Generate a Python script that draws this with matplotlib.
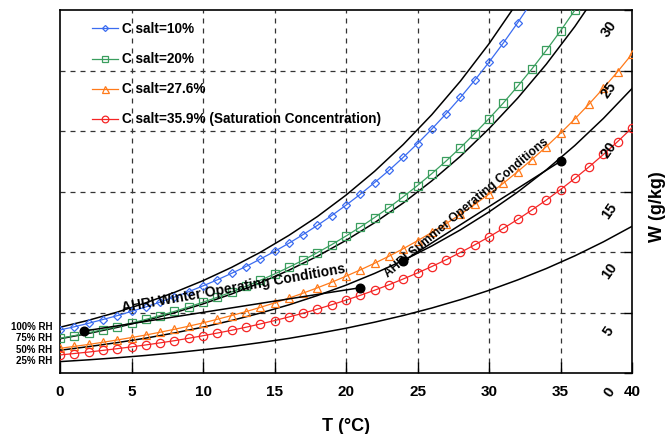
import numpy as np
import matplotlib
matplotlib.use("Agg")
import matplotlib.pyplot as plt

plt.rcParams['font.family'] = ['Liberation Sans', 'DejaVu Sans']
plt.rcParams['font.weight'] = 'bold'

# ---------------- data ----------------
T = np.arange(0, 41)

W_10 = [3.56, 3.82, 4.11, 4.42, 4.74, 5.09, 5.46, 5.86, 6.28, 6.72,
        7.20, 7.70, 8.24, 8.80, 9.41, 10.05, 10.72, 11.44, 12.20, 13.01,
        13.87, 14.77, 15.74, 16.74, 17.82, 18.96, 20.16, 21.43, 22.77, 24.19,
        25.69, 27.27, 28.94, 30.70]
W_20 = [2.87, 3.09, 3.33, 3.58, 3.84, 4.13, 4.43, 4.75, 5.09, 5.46,
        5.85, 6.26, 6.70, 7.16, 7.66, 8.18, 8.74, 9.32, 9.95, 10.61,
        11.32, 12.06, 12.85, 13.67, 14.56, 15.49, 16.48, 17.52, 18.62, 19.79,
        21.02, 22.31, 23.69, 25.13, 26.66, 28.27, 29.98, 31.77]
W_276 = [2.04, 2.20, 2.36, 2.54, 2.73, 2.93, 3.14, 3.37, 3.61, 3.87,
         4.14, 4.44, 4.75, 5.07, 5.42, 5.79, 6.18, 6.60, 7.04, 7.50,
         8.00, 8.52, 9.07, 9.65, 10.27, 10.93, 11.62, 12.35, 13.11, 13.93,
         14.79, 15.68, 16.64, 17.64, 18.70, 19.82, 20.99, 22.23, 23.54, 24.91,
         26.36]
W_359 = [1.49, 1.61, 1.73, 1.87, 2.01, 2.16, 2.32, 2.49, 2.67, 2.87,
         3.08, 3.30, 3.53, 3.78, 4.05, 4.33, 4.63, 4.94, 5.28, 5.64,
         6.02, 6.42, 6.84, 7.29, 7.77, 8.27, 8.80, 9.36, 9.96, 10.59,
         11.25, 11.95, 12.69, 13.47, 14.29, 15.16, 16.08, 17.04, 18.06, 19.13,
         20.26]

# constant relative humidity lines
T_rh = np.arange(0, 42, 2)
W_rh100 = [3.78, 4.36, 5.03, 5.80, 6.66, 7.63, 8.73, 9.97, 11.37, 12.93,
           14.70, 16.67, 18.88, 21.35, 24.12, 27.21, 30.65]
W_rh75 = [2.83, 3.27, 3.77, 4.34, 4.98, 5.71, 6.53, 7.45, 8.49, 9.65,
          10.96, 12.42, 14.05, 15.88, 17.91, 20.19, 22.71, 25.51, 28.63, 32.10]
W_rh50 = [1.88, 2.18, 2.51, 2.88, 3.31, 3.79, 4.34, 4.95, 5.63, 6.40,
          7.26, 8.23, 9.30, 10.50, 11.83, 13.31, 14.95, 16.78, 18.80, 21.04,
          23.51]
W_rh25 = [0.94, 1.09, 1.26, 1.45, 1.67, 1.92, 2.19, 2.51, 2.86, 3.26,
          3.70, 4.20, 4.75, 5.37, 6.06, 6.83, 7.69, 8.63, 9.68, 10.84,
          12.12]
rh_labels = ['100% RH', '75% RH', '50% RH', '25% RH']

# AHRI operating points (T, W)
winter_T = [1.7, 21.0]
winter_W = [3.47, 7.05]
summer_T = [24.0, 35.0]
summer_W = [9.25, 17.5]

w_ticks = [0, 5, 10, 15, 20, 25, 30]
t_ticks = [0, 5, 10, 15, 20, 25, 30, 35, 40]

# ---------------- plot ----------------
fig = plt.figure(figsize=(6.66, 4.34), dpi=100)
ax = fig.add_axes([60 / 666, 61 / 434, 572 / 666, 363 / 434])

for v in t_ticks[1:-1]:
    ax.axvline(v, color='#333333', ls=(0, (4, 4)), lw=0.9, zorder=1)
for v in w_ticks[1:-1]:
    ax.axhline(v, color='#333333', ls=(0, (4, 4)), lw=0.9, zorder=1)

for w in (W_rh100, W_rh75, W_rh50, W_rh25):
    ax.plot(T_rh[:len(w)], w, color='black', lw=1.1, zorder=2)

ax.plot(T[:len(W_10)], W_10, color='#3B6CF0', lw=0.9, marker='D', ms=3.8,
        mfc='none', mew=0.9, label='C salt=10%', zorder=3)
ax.plot(T[:len(W_20)], W_20, color='#3A9E5E', lw=0.9, marker='s', ms=5.5,
        mfc='none', mew=0.9, label='C salt=20%', zorder=3)
ax.plot(T[:len(W_276)], W_276, color='#FF7A1A', lw=0.9, marker='^', ms=6.3,
        mfc='none', mew=0.9, label='C salt=27.6%', zorder=3)
ax.plot(T[:len(W_359)], W_359, color='#F52525', lw=0.9, marker='o', ms=6,
        mfc='none', mew=0.9, label='C salt=35.9% (Saturation Concentration)', zorder=3)

ax.plot(winter_T, winter_W, color='black', lw=1.1, marker='o', ms=6.2, zorder=4)
ax.plot(summer_T, summer_W, color='black', lw=1.1, marker='o', ms=6.2, zorder=4)

ax.text(12.1, 7.0, 'AHRI Winter Operating Conditions', rotation=10,
        ha='center', va='center', fontsize=10, fontweight='bold')
ax.text(28.45, 13.6, 'AHRI Summer Operating Conditions', rotation=40,
        ha='center', va='center', fontsize=8.7, fontweight='bold')

ax.set_xlim(0, 40)
ax.set_ylim(0, 30)
ax.set_xticks(t_ticks)
ax.set_xticklabels([str(v) for v in t_ticks], fontsize=11, fontweight='bold')
ax.tick_params(axis='x', direction='in', length=8, width=1, pad=9)
ax.set_yticks(w_ticks)
ax.tick_params(axis='y', left=False, right=True, labelleft=False,
               direction='in', length=6, width=1)
for s in ax.spines.values():
    s.set_linewidth(1.2)

# rotated W labels inside the right edge
for v in w_ticks:
    ax.text(38.4, v - 1.6, str(v), rotation=55, ha='center', va='center',
            fontsize=10.5, fontweight='bold', clip_on=False)

# RH labels on the left
for lab, w in zip(rh_labels, (W_rh100, W_rh75, W_rh50, W_rh25)):
    ax.text(-0.55, w[0] + 0.05, lab, ha='right', va='center',
            fontsize=7, fontweight='bold', clip_on=False)

ax.set_xlabel('T (°C)', fontsize=13, fontweight='bold', labelpad=13)
fig.text(657 / 666, 1 - 207 / 434, 'W (g/kg)', rotation=90, ha='center',
         va='center', fontsize=13, fontweight='bold')

ax.legend(loc='upper left', bbox_to_anchor=(0.035, 1.0), frameon=False,
          prop={'weight': 'bold', 'size': 9.8}, labelspacing=1.18,
          handlelength=1.9, handletextpad=0.3, markerscale=0.8)

fig.savefig('out.png', dpi=100)
